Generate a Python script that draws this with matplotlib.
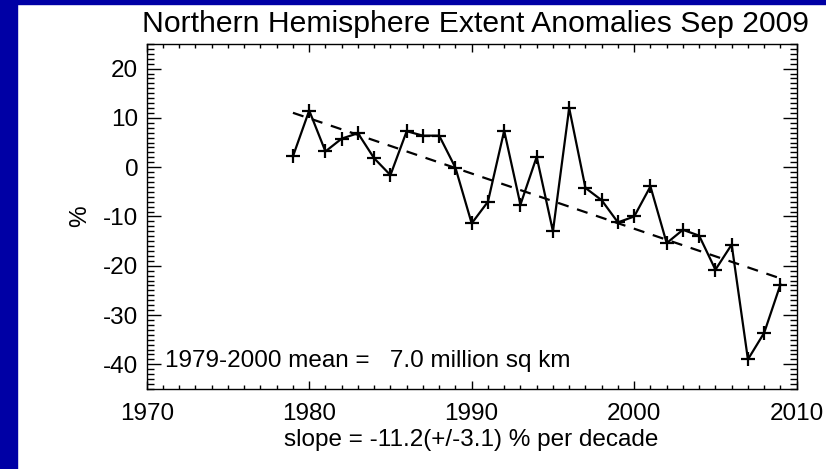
import numpy as np
import matplotlib.pyplot as plt
from matplotlib.patches import Rectangle

plt.rcParams['font.family'] = ['Liberation Sans', 'DejaVu Sans']
plt.rcParams['axes.unicode_minus'] = False

years = np.arange(1979, 2010)
anomaly = [2.2, 11.5, 3.2, 5.8, 6.9, 1.8, -1.6, 7.3, 6.4, 6.4,
           -0.1, -11.4, -7.0, 7.4, -7.6, 2.1, -13.0, 12.0, -4.2, -6.7,
           -11.2, -10.0, -3.9, -15.4, -12.7, -13.9, -20.8, -15.7, -39.0, -33.6,
           -23.8]
slope_per_decade = -11.2
slope_err = 3.1
mean_extent = 7.0

# trend line through the data mean with the quoted slope
anom = np.array(anomaly)
trend = anom.mean() + slope_per_decade / 10.0 * (years - years.mean())

fs = 17.5

fig = plt.figure(figsize=(8.26, 4.69), dpi=100)
fig.patch.set_facecolor('white')
# dark blue frame on the left and top
fig.patches.append(Rectangle((0, 0), 17 / 826, 1, transform=fig.transFigure,
                             color='#0000a5', zorder=-1))
fig.patches.append(Rectangle((0, 1 - 4 / 469), 1, 4 / 469, transform=fig.transFigure,
                             color='#0000a5', zorder=-1))

ax = fig.add_axes([0.1776, 0.1706, 0.7869, 0.7356])
ax.plot(years, anom, color='black', lw=1.6, marker='+', ms=10, mew=1.6)
ax.plot(years, trend, color='black', lw=1.6, ls=(0, (5, 4)))

ax.set_xlim(1970, 2010)
ax.set_ylim(-45, 25)
ax.set_xticks([1970, 1980, 1990, 2000, 2010])
ax.set_xticks(np.arange(1970, 2011, 1), minor=True)
ax.set_yticks([-40, -30, -20, -10, 0, 10, 20])
ax.set_yticks(np.arange(-45, 26, 1), minor=True)

for s in ax.spines.values():
    s.set_linewidth(1.0)
ax.tick_params(axis='both', which='both', direction='in', top=True, right=True,
               labelsize=fs, width=1.0)
ax.tick_params(axis='x', which='major', length=6, pad=10)
ax.tick_params(axis='x', which='minor', length=3)
ax.tick_params(axis='y', which='major', length=10, pad=6)
ax.tick_params(axis='y', which='minor', length=5)

ax.set_ylabel('%', fontsize=fs)
ax.yaxis.set_label_coords(-0.0855, 0.5)
ax.set_xlabel('slope = %.1f(+/-%.1f) %% per decade' % (slope_per_decade, slope_err),
              fontsize=fs, va='baseline')
ax.xaxis.set_label_coords(0.5, -0.165)
ax.text(1971.13, -40.54, '1979-2000 mean =   %.1f million sq km' % mean_extent,
        fontsize=fs, va='baseline', ha='left')

fig.text(475 / 826, 1 - 31.7 / 469, 'Northern Hemisphere Extent Anomalies Sep 2009',
         fontsize=21.7, ha='center', va='baseline')

fig.savefig('out.png', dpi=100)
